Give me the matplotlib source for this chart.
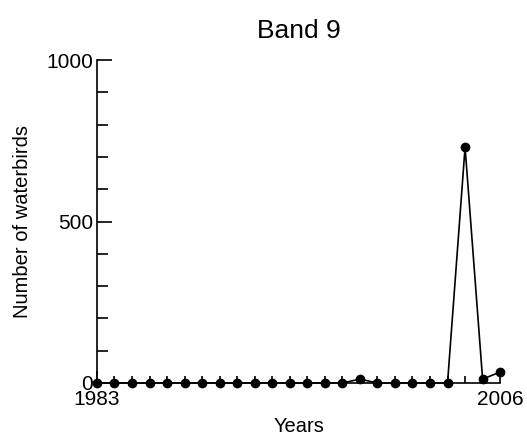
import matplotlib.pyplot as plt
import numpy as np

plt.rcParams['font.family'] = ['Liberation Sans', 'DejaVu Sans']

years = list(range(1983, 2007))
birds = [0, 0, 0, 0, 0, 0, 0, 0, 0, 0, 0, 0, 0, 0, 0, 12,
         0, 0, 0, 0, 0, 730, 12, 34]

fig = plt.figure(figsize=(5.27, 4.42), dpi=100)
ax = fig.add_axes([0.184, 0.1335, 0.765, 0.7305])

ax.plot(years, birds, color="black", linewidth=1.2, marker="o",
        markersize=6, clip_on=False, zorder=3)

ax.set_xlim(1983, 2006)
ax.set_ylim(0, 1000)

ax.spines['top'].set_visible(False)
ax.spines['right'].set_visible(False)
ax.spines['left'].set_linewidth(1.2)
ax.spines['bottom'].set_linewidth(1.2)

ax.set_yticks([0, 500, 1000])
ax.set_yticks(np.arange(0, 1001, 100), minor=True)
ax.set_xticks([1983, 2006])
ax.set_xticklabels(["1983", "2006"])
ax.set_xticks(years, minor=True)

ax.tick_params(axis='y', which='major', direction='in', length=11, width=1.2,
               labelsize=15, pad=3)
ax.tick_params(axis='y', which='minor', direction='in', length=8, width=1.2)
ax.tick_params(axis='x', which='major', direction='in', length=9, width=1.2,
               labelsize=15, pad=5)
ax.tick_params(axis='x', which='minor', direction='in', length=5, width=1.2)

ax.set_title("Band 9", fontsize=19, pad=16)
ax.set_xlabel("Years", fontsize=14.5, labelpad=6)
ax.set_ylabel("Number of waterbirds", fontsize=14.5, labelpad=10)

fig.savefig("out.png", dpi=100)
